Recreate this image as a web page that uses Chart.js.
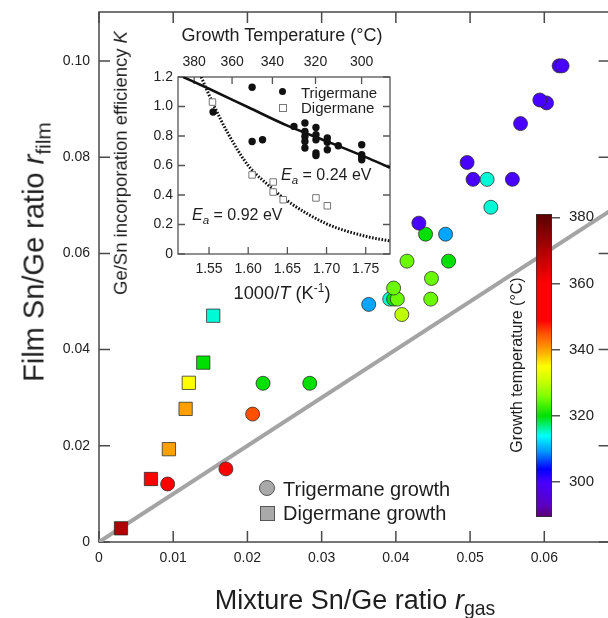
<!DOCTYPE html>
<html>
<head>
<meta charset="utf-8">
<script src="https://cdn.jsdelivr.net/npm/chart.js@4.4.0/dist/chart.umd.min.js"></script>
<style>
  html, body { margin: 0; padding: 0; background: #fff; }
  #wrap { position: relative; width: 608px; height: 618px; overflow: hidden;
          font-family: 'Liberation Sans', Arial, Helvetica, sans-serif; color: #1e1e1e; }
  canvas { position: absolute; }
  #main { left: 0; top: 0; }
  #inset { left: 100px; top: 20px; }
  #cbar { left: 530px; top: 204px; }
  .lbl { position: absolute; white-space: nowrap; line-height: 1; }
  .ctr { transform: translate(-50%, -50%); }
  .mid { transform: translateY(-50%); }
  .rot { transform: translate(-50%, -50%) rotate(-90deg); }
  .sb { font-size: 0.72em; position: relative; top: 0.32em; }
  .sp { font-size: 0.65em; position: relative; top: -0.55em; }
  .dot { position: absolute; border-radius: 50%; }
  .box { position: absolute; }
</style>
</head>
<body>
<div id="wrap">
  <canvas id="main" width="620" height="618"></canvas>
  <canvas id="inset" width="300" height="290"></canvas>
  <canvas id="cbar" width="82" height="323"></canvas>

  <div class="lbl rot" style="left:34px; top:252px; font-size:29px;">Film Sn/Ge ratio <i>r</i><span class="sb">film</span></div>
  <div class="lbl ctr" style="left:355px; top:600px; font-size:27px;">Mixture Sn/Ge ratio <i>r</i><span class="sb">gas</span></div>

  <div class="dot" style="left:259px; top:480px; width:14px; height:14px; background:#a9a9a9; border:1px solid #555;"></div>
  <div class="lbl mid" style="left:283px; top:489px; font-size:20px;">Trigermane growth</div>
  <div class="box" style="left:260px; top:506px; width:13px; height:13px; background:#a9a9a9; border:1px solid #555;"></div>
  <div class="lbl mid" style="left:283px; top:513px; font-size:20px;">Digermane growth</div>

  <div class="lbl rot" style="left:517px; top:365px; font-size:16px;">Growth temperature (°C)</div>

  <div class="lbl rot" style="left:121px; top:163px; font-size:18.5px;">Ge/Sn incorporation efficiency <i>K</i></div>
  <div class="lbl ctr" style="left:282px; top:35px; font-size:18px;">Growth Temperature (°C)</div>
  <div class="lbl ctr" style="left:282px; top:293px; font-size:18.3px;">1000/<i>T</i> (K<span class="sp">-1</span>)</div>

  <div class="dot" style="left:279px; top:88px; width:7px; height:7px; background:#111;"></div>
  <div class="lbl mid" style="left:301px; top:92px; font-size:15px;">Trigermane</div>
  <div class="box" style="left:279px; top:104px; width:6px; height:6px; border:1px solid #777; background:#fff;"></div>
  <div class="lbl mid" style="left:301px; top:107px; font-size:15px;">Digermane</div>

  <div class="lbl mid" style="left:281px; top:175px; font-size:16px;"><i>E</i><span class="sb"><i>a</i></span> = 0.24 eV</div>
  <div class="lbl mid" style="left:192px; top:215px; font-size:16px;"><i>E</i><span class="sb"><i>a</i></span> = 0.92 eV</div>
</div>

<script>
// main panel: trigermane growth (circles)
const triGas  = [0.00925, 0.0171, 0.0207, 0.0221, 0.0284, 0.03634, 0.03917, 0.0397, 0.0402, 0.0397,
                 0.0408, 0.0415, 0.0440, 0.0431, 0.0448, 0.0447, 0.0467, 0.0471, 0.0528, 0.0496,
                 0.0504, 0.0523, 0.0557, 0.0568, 0.0603, 0.0594, 0.0620, 0.0624];
const triFilm = [0.01206, 0.0152, 0.0266, 0.0330, 0.0330, 0.0494, 0.0505, 0.0505, 0.0505, 0.0528,
                 0.0473, 0.0584, 0.0640, 0.0663, 0.0548, 0.0505, 0.0640, 0.0584, 0.0696, 0.0789,
                 0.0754, 0.0754, 0.0754, 0.0870, 0.0913, 0.0919, 0.0990, 0.0990];
const triTemp = [350, 350, 345, 320, 320, 310, 315, 320, 325, 325,
                 330, 325, 320, 300, 325, 325, 310, 320, 315, 300,
                 300, 315, 300, 300, 300, 300, 300, 300];

// main panel: digermane growth (squares)
const diGas  = [0.00296, 0.0070, 0.00942, 0.01167, 0.0121, 0.01405, 0.01539];
const diFilm = [0.00285, 0.0131, 0.0193, 0.02768, 0.0331, 0.0373, 0.04705];
const diTemp = [370, 350, 340, 340, 335, 320, 315];

// r_film = r_gas reference line
const parity = [0, 0.07];

// inset: K versus 1000/T
const insTriX = [1.5552, 1.605, 1.605, 1.6183, 1.6584, 1.6724, 1.6724, 1.6724, 1.6724, 1.6724,
                 1.6865, 1.6865, 1.6865, 1.6865, 1.6865, 1.701, 1.701, 1.701, 1.715,
                 1.7449, 1.7449, 1.7449, 1.7449];
const insTriK = [0.963, 1.13, 0.763, 0.775, 0.865, 0.888, 0.831, 0.797, 0.763, 0.719,
                 0.858, 0.809, 0.775, 0.685, 0.667, 0.786, 0.757, 0.707, 0.734,
                 0.741, 0.673, 0.657, 0.639];
const insDiX = [1.5544, 1.605, 1.6319, 1.6319, 1.6447, 1.6865, 1.701];
const insDiK = [1.03, 0.536, 0.488, 0.42, 0.368, 0.38, 0.327];

// fitted curves
const fit024X = [1.517, 1.55, 1.60, 1.65, 1.70, 1.75, 1.781];
const fit024K = [1.2, 1.12, 0.995, 0.87, 0.765, 0.657, 0.585];
const fit092X = [1.54, 1.555, 1.575, 1.60, 1.625, 1.65, 1.70, 1.75, 1.781];
const fit092K = [1.2, 1.02, 0.81, 0.6, 0.47, 0.36, 0.205, 0.12, 0.088];

// tick labels
const insXTicks = [1.55, 1.60, 1.65, 1.70, 1.75];
const tempTicks = [380, 360, 340, 320, 300];
const cbarTicks = [300, 320, 340, 360, 380];
const cbarRange = [289.5, 381];

// rainbow colour map for growth temperature
const cmapT = [289, 293, 300, 304, 309, 314, 320, 326, 331, 335, 340, 345, 349, 360, 370, 381];
const cmapC = ['#5c0070', '#5a00c0', '#4800ff', '#0000ff', '#0090ff', '#00ffff', '#00e000', '#80ff00',
               '#d0ff00', '#ffff00', '#ffa000', '#ff5000', '#ff0000', '#ff0000', '#b00000', '#580000'];

function hexRgb(h) {
  return [parseInt(h.slice(1, 3), 16), parseInt(h.slice(3, 5), 16), parseInt(h.slice(5, 7), 16)];
}
function tempColor(t) {
  if (t <= cmapT[0]) return cmapC[0];
  for (let i = 1; i < cmapT.length; i++) {
    if (t <= cmapT[i]) {
      const f = (t - cmapT[i - 1]) / (cmapT[i] - cmapT[i - 1]);
      const a = hexRgb(cmapC[i - 1]), b = hexRgb(cmapC[i]);
      const c = a.map((v, k) => Math.round(v + (b[k] - v) * f));
      return 'rgb(' + c.join(',') + ')';
    }
  }
  return cmapC[cmapC.length - 1];
}

Chart.defaults.font.family = "'Liberation Sans', Arial, Helvetica, sans-serif";
Chart.defaults.color = '#222';

// fixed axis size, and no extra room reserved for half labels
function fixSize(w, h) {
  return s => {
    if (w !== null) s.width = w;
    if (h !== null) s.height = h;
    s.paddingTop = 0; s.paddingBottom = 0; s.paddingLeft = 0; s.paddingRight = 0;
  };
}

// box around the plot area + inward tick marks
const frame = {
  id: 'frame',
  beforeDatasetsDraw(chart, args, opts) {
    const { ctx, chartArea: a, scales } = chart;
    ctx.save();
    ctx.strokeStyle = opts.color;
    ctx.lineWidth = opts.width;
    ctx.strokeRect(a.left, a.top, a.right - a.left, a.bottom - a.top);
    ctx.beginPath();
    opts.marks.forEach(m => {
      const s = scales[m.id];
      s.ticks.forEach(t => {
        const p = s.getPixelForValue(t.value);
        m.sides.forEach(side => {
          if (side === 'bottom') { ctx.moveTo(p, a.bottom); ctx.lineTo(p, a.bottom - opts.len); }
          if (side === 'top') { ctx.moveTo(p, a.top); ctx.lineTo(p, a.top + opts.len); }
          if (side === 'left') { ctx.moveTo(a.left, p); ctx.lineTo(a.left + opts.len, p); }
          if (side === 'right') { ctx.moveTo(a.right, p); ctx.lineTo(a.right - opts.len, p); }
        });
      });
    });
    ctx.stroke();
    ctx.restore();
  }
};

const fmt2 = v => (v === 0 ? '0' : v.toFixed(2));
const noGrid = { display: false, drawTicks: false };

// main chart
new Chart(document.getElementById('main'), {
  type: 'scatter',
  data: {
    datasets: [
      {
        label: 'Trigermane growth',
        data: triGas.map((x, i) => ({ x: x, y: triFilm[i] })),
        pointStyle: 'circle',
        pointRadius: 7,
        pointBackgroundColor: triTemp.map(tempColor),
        pointBorderColor: 'rgba(40,40,40,0.75)',
        pointBorderWidth: 1
      },
      {
        label: 'Digermane growth',
        data: diGas.map((x, i) => ({ x: x, y: diFilm[i] })),
        pointStyle: 'rect',
        pointRadius: 9.4,
        pointBackgroundColor: diTemp.map(tempColor),
        pointBorderColor: 'rgba(40,40,40,0.75)',
        pointBorderWidth: 1
      },
      {
        label: 'parity',
        data: parity.map(v => ({ x: v, y: v })),
        showLine: true,
        pointRadius: 0,
        borderColor: '#a4a4a4',
        borderWidth: 4
      }
    ]
  },
  options: {
    responsive: false,
    animation: false,
    events: [],
    layout: { padding: { top: 12, right: 10, left: 0, bottom: 0 } },
    plugins: {
      legend: { display: false },
      tooltip: { enabled: false },
      frame: {
        color: '#4a4a4a', width: 1.5, len: 11,
        marks: [{ id: 'x', sides: ['bottom', 'top'] }, { id: 'y', sides: ['left', 'right'] }]
      }
    },
    scales: {
      x: {
        type: 'linear', min: 0, max: 0.0688,
        afterFit: fixSize(null, 76),
        grid: noGrid,
        border: { display: false },
        ticks: { stepSize: 0.01, includeBounds: false, padding: 8, font: { size: 14 }, callback: fmt2 }
      },
      y: {
        type: 'linear', min: 0, max: 0.1102,
        afterFit: fixSize(99, null),
        grid: noGrid,
        border: { display: false },
        ticks: { stepSize: 0.02, includeBounds: false, padding: 9, font: { size: 14 }, callback: fmt2 }
      }
    }
  },
  plugins: [frame]
});

// inset chart
new Chart(document.getElementById('inset'), {
  type: 'scatter',
  data: {
    datasets: [
      {
        label: 'Trigermane',
        data: insTriX.map((x, i) => ({ x: x, y: insTriK[i] })),
        pointRadius: 3.7,
        pointBackgroundColor: '#111',
        pointBorderWidth: 0
      },
      {
        label: 'Digermane',
        data: insDiX.map((x, i) => ({ x: x, y: insDiK[i] })),
        pointStyle: 'rect',
        pointRadius: 4.6,
        pointBackgroundColor: '#fff',
        pointBorderColor: '#777',
        pointBorderWidth: 1
      },
      {
        label: 'Ea = 0.24 eV',
        data: fit024X.map((x, i) => ({ x: x, y: fit024K[i] })),
        showLine: true,
        pointRadius: 0,
        borderColor: '#111',
        borderWidth: 2.6,
        cubicInterpolationMode: 'monotone'
      },
      {
        label: 'Ea = 0.92 eV',
        data: fit092X.map((x, i) => ({ x: x, y: fit092K[i] })),
        showLine: true,
        pointRadius: 0,
        borderColor: '#111',
        borderWidth: 3,
        borderDash: [1.6, 1.6],
        cubicInterpolationMode: 'monotone'
      }
    ]
  },
  options: {
    responsive: false,
    animation: false,
    events: [],
    layout: { padding: { top: 0, right: 10, left: 0, bottom: 0 } },
    plugins: {
      legend: { display: false },
      tooltip: { enabled: false },
      frame: {
        color: '#555', width: 1.3, len: 7,
        marks: [{ id: 'x', sides: ['bottom'] }, { id: 'x2', sides: ['top'] }, { id: 'y', sides: ['left', 'right'] }]
      }
    },
    scales: {
      x: {
        type: 'linear', position: 'bottom', min: 1.5104, max: 1.781,
        afterFit: fixSize(null, 56),
        afterBuildTicks: s => { s.ticks = insXTicks.map(v => ({ value: v })); },
        grid: noGrid,
        border: { display: false },
        ticks: { padding: 7, font: { size: 14 }, callback: v => v.toFixed(2) }
      },
      x2: {
        type: 'linear', position: 'top', min: 1.5104, max: 1.781,
        afterFit: fixSize(null, 57),
        afterBuildTicks: s => { s.ticks = tempTicks.map(t => ({ value: 1000 / (t + 273.15) })); },
        grid: noGrid,
        border: { display: false },
        ticks: { padding: 6, font: { size: 14 }, callback: v => String(Math.round(1000 / v - 273.15)) }
      },
      y: {
        type: 'linear', min: 0, max: 1.2,
        afterFit: fixSize(78, null),
        grid: noGrid,
        border: { display: false },
        ticks: { stepSize: 0.2, padding: 5, font: { size: 14 }, callback: v => (v === 0 ? '0' : v.toFixed(1)) }
      }
    }
  },
  plugins: [frame]
});

// colour bar
new Chart(document.getElementById('cbar'), {
  type: 'bar',
  data: {
    labels: [''],
    datasets: [{
      data: [cbarRange],
      barPercentage: 1,
      categoryPercentage: 1,
      borderWidth: 1,
      borderColor: '#333',
      borderSkipped: false,
      backgroundColor: ctx => {
        const chart = ctx.chart;
        if (!chart.chartArea) return '#888';
        const ys = chart.scales.y;
        const y0 = ys.getPixelForValue(cbarRange[0]), y1 = ys.getPixelForValue(cbarRange[1]);
        const g = chart.ctx.createLinearGradient(0, y0, 0, y1);
        cmapT.forEach((t, i) => {
          const f = (t - cbarRange[0]) / (cbarRange[1] - cbarRange[0]);
          g.addColorStop(Math.min(1, Math.max(0, f)), cmapC[i]);
        });
        return g;
      }
    }]
  },
  options: {
    responsive: false,
    animation: false,
    events: [],
    layout: { padding: { top: 10, bottom: 10, left: 6, right: 0 } },
    plugins: { legend: { display: false }, tooltip: { enabled: false } },
    scales: {
      x: { display: false },
      y: {
        position: 'right', min: cbarRange[0], max: cbarRange[1],
        afterFit: fixSize(60, null),
        afterBuildTicks: s => { s.ticks = cbarTicks.map(v => ({ value: v })); },
        grid: { display: true, drawOnChartArea: false, drawTicks: true, tickLength: 8, color: '#555', lineWidth: 1.5 },
        border: { display: false },
        ticks: { padding: 9, font: { size: 15 } }
      }
    }
  }
});
</script>
</body>
</html>
